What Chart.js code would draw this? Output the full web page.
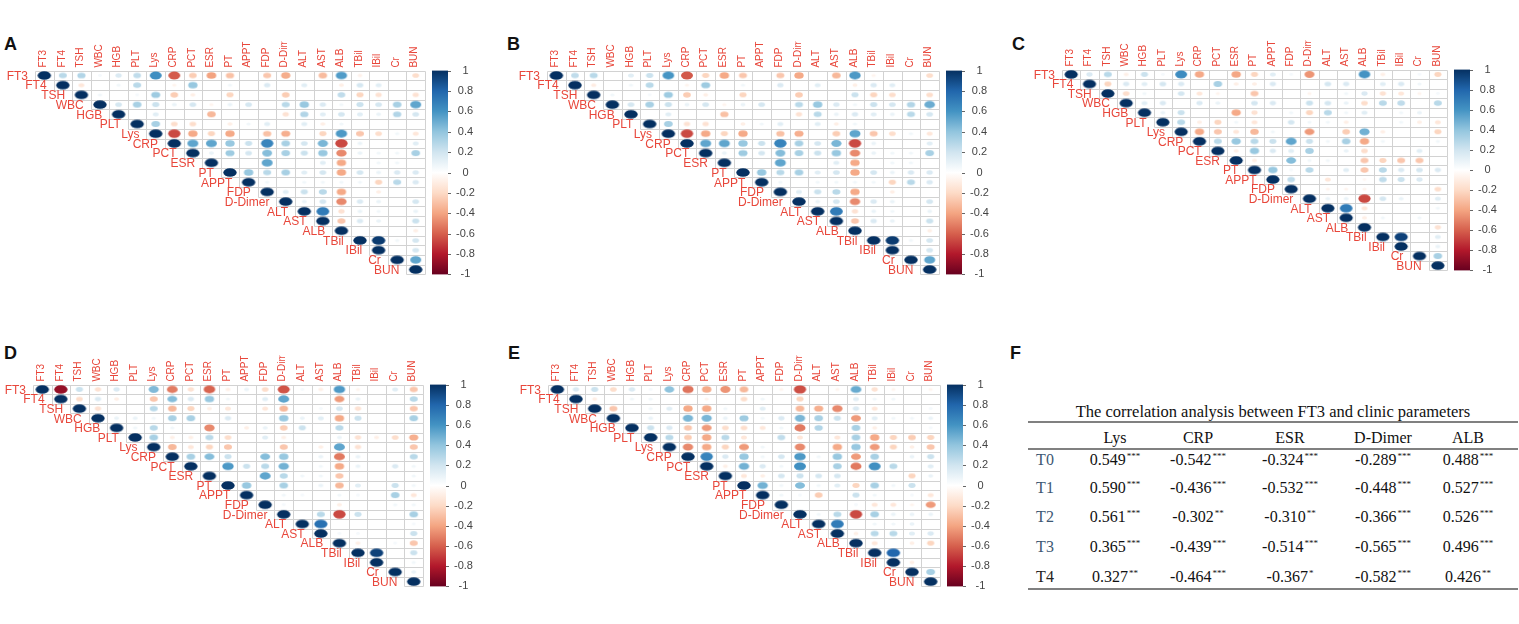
<!DOCTYPE html>
<html>
<head>
<meta charset="utf-8">
<script src="https://cdn.jsdelivr.net/npm/chart.js@4.4.0/dist/chart.umd.min.js"></script>
<style>
body{margin:0;width:1519px;height:624px;background:#fff;position:relative;overflow:hidden;font-family:"Liberation Sans",Arial,sans-serif}
.panel{position:absolute}
.tag{position:absolute;font:bold 18px "Liberation Sans",Arial,sans-serif;color:#111}
.tcell{position:absolute;font-family:"Liberation Serif","Times New Roman",serif;font-size:16px;color:#111;white-space:nowrap;transform:translate(-50%,-50%)}
.tcell sup{font-size:9px;vertical-align:6px;margin-left:1px}
.rule{position:absolute;left:1028px;width:490px;height:2px;background:#808080}
</style>
</head>
<body>
<div class="tag" style="left:4px;top:34px">A</div>
<div class="tag" style="left:507px;top:34px">B</div>
<div class="tag" style="left:1012px;top:34px">C</div>
<div class="tag" style="left:4px;top:343px">D</div>
<div class="tag" style="left:508px;top:343px">E</div>
<div class="tag" style="left:1010px;top:343px">F</div>
<div id="tbl"></div>
<script>
const vars = ['FT3','FT4','TSH','WBC','HGB','PLT','Lys','CRP','PCT','ESR','PT','APPT','FDP','D-Dimer','ALT','AST','ALB','TBil','IBil','Cr','BUN'];

// upper triangle, row i holds columns i+1..20 (diagonal is 1)
const corrT0 = [
  [0.2,0.22,0.02,0.1,0.18,0.549,-0.542,-0.18,-0.324,-0.22,0,-0.2,-0.289,0,-0.24,0.488,-0.04,0,0,-0.12],
  [-0.08,0,0.03,0.2,0,-0.03,0.3,0,0.03,0,0.1,0,0.08,0,-0.05,0.12,0.08,0,0],
  [0.03,0,0.02,0.28,-0.18,-0.05,0,-0.15,0,0,-0.18,0,0,0.18,-0.15,-0.1,0,-0.1],
  [0.12,0.25,0.15,0.05,0.12,-0.03,0.05,0.12,0,0.2,0.3,0.1,0.03,0.15,0.12,0.25,0.45],
  [0,0.08,0,0,-0.25,0,0,0,-0.1,0.22,0.08,0.12,0.08,0.05,0.22,0.12],
  [0.25,-0.12,-0.12,0,-0.05,0.03,0.08,0,0.08,-0.05,0.03,0,0,0,0],
  [-0.6,-0.3,-0.15,-0.3,0,-0.22,-0.28,0,-0.15,0.5,-0.2,-0.12,0.03,-0.08],
  [0.45,0.45,0.3,0.15,0.6,0.25,0.12,0.38,-0.6,0.05,0,0,0.08],
  [0.05,0.28,0.12,0.35,0.25,0.15,0.3,-0.4,0.05,0.03,0.03,0.25],
  [0,0,0.45,0,0,0.08,-0.3,0,0.03,0.03,0],
  [0.3,0.2,0.25,0.08,0.12,-0.3,0.12,0.05,0.1,0.1],
  [0.03,0,0.03,0.03,0.03,0.03,-0.15,0.2,0.1],
  [0.08,0.15,0.2,-0.3,0,-0.05,0,0],
  [0.05,0.12,-0.4,0.1,0.05,0,0.12],
  [0.65,-0.1,0.05,0.03,0,0.05],
  [-0.2,0.1,0.05,0,0.15],
  [0,0,0,-0.05],
  [0.95,0.03,0.12],
  [0,0.12],
  [0.45]
];
const corrT1 = [
  [0.18,0.2,0,0.08,0.15,0.52,-0.55,-0.15,-0.3,-0.2,0,-0.2,-0.3,0,-0.25,0.5,-0.03,0,0,-0.12],
  [-0.06,0,0.03,0.2,0,-0.03,0.28,0,0.03,0,0.1,0,0.08,0,-0.05,0.1,0.08,0,0],
  [0.03,0,0.02,0.28,-0.18,-0.05,0,-0.15,0,0,-0.18,0,0,0.15,-0.15,-0.12,0,-0.12],
  [0.12,0.25,0.15,0.05,0.12,-0.03,0.05,0.12,0,0.2,0.3,0.1,0.03,0.15,0.12,0.22,0.42],
  [0,0.08,0,0,-0.22,0,0,0,-0.1,0.2,0.05,0.1,0.08,0.05,0.2,0.12],
  [0.25,-0.1,-0.1,0,-0.05,0.03,0.08,0,0.08,-0.05,0.03,0,0,0,0],
  [-0.6,-0.3,-0.15,-0.3,0,-0.22,-0.28,0,-0.18,0.45,-0.2,-0.12,0.03,-0.08],
  [0.45,0.45,0.3,0.15,0.6,0.25,0.12,0.38,-0.6,0.05,0,0,0.08],
  [0.05,0.28,0.12,0.35,0.25,0.15,0.3,-0.4,0.05,0.03,0.03,0.25],
  [0,0,0.45,0,0,0.08,-0.3,0,0.03,0.03,0],
  [0.3,0.2,0.25,0.08,0.12,-0.3,0.12,0.05,0.1,0.1],
  [0.03,0,0.03,0.03,0.03,0.03,-0.15,0.2,0.1],
  [0.08,0.15,0.2,-0.3,0,-0.05,0,0],
  [0.05,0.12,-0.4,0.1,0.05,0,0.12],
  [0.65,-0.1,0.05,0.03,0,0.05],
  [-0.2,0.1,0.05,0,0.15],
  [0,0,0,-0.05],
  [0.95,0.03,0.12],
  [0,0.12],
  [0.45]
];
const corrT2 = [
  [0.1,0.2,-0.05,0.15,0.02,0.561,-0.302,0,-0.31,-0.15,0.08,0.02,-0.366,0,0,0.526,-0.05,0,0.02,-0.15],
  [-0.15,0.1,0.08,0.12,0.1,0,0.25,-0.05,-0.05,0.1,0,0,0.12,0.1,0,0.08,0.1,0.03,0],
  [-0.12,0.03,0,0.12,-0.08,-0.03,0,-0.2,0,0,-0.03,0,0.03,0.1,-0.1,-0.08,-0.03,0.02],
  [0.08,0.1,0,0.1,0.05,0,0.12,0.1,0,0.15,0.12,0.05,-0.12,0.2,0.18,0,0.2],
  [0.05,0.15,0,0,-0.3,-0.1,0,0.03,-0.15,0.2,0.03,0.08,0,0.03,0.05,0],
  [0.2,-0.05,-0.15,0.03,-0.08,0,0.12,0.03,0.03,-0.05,0,0,0.03,-0.05,-0.08],
  [-0.3,-0.2,-0.08,-0.25,0.03,0,-0.35,0,-0.18,0.4,-0.05,0,0,-0.15],
  [0.2,0.3,0.2,0.15,0.45,0.15,0.03,0.25,-0.3,0.03,0,0,0.03],
  [-0.05,0.3,0.1,0.08,0.25,0,0.05,-0.12,0,0,0.08,0],
  [-0.05,0,0.35,0.03,0.03,0,-0.2,-0.15,-0.2,-0.2,0],
  [0.3,0.02,0.2,0,0.08,-0.2,0.2,0.1,0.12,0.1],
  [0.18,0,-0.08,0,-0.02,0.18,0.15,0.1,0],
  [0,-0.03,-0.03,-0.03,0,0,0,-0.12],
  [0.05,0.05,-0.6,0.12,0.05,0,0.08],
  [0.65,-0.08,0,0,0,0.03],
  [-0.05,0.03,0,0.03,0],
  [0,0,0,-0.1],
  [0.92,0,0.08],
  [0,0.05],
  [0.25]
];
const corrT3 = [
  [-0.85,0.15,-0.1,0.1,0,0.365,-0.439,-0.1,-0.514,-0.05,0.05,-0.12,-0.565,0.02,-0.05,0.496,-0.03,0,0.08,-0.2],
  [-0.12,0.1,-0.05,0,-0.2,0.35,0.1,0.3,0.03,0,0.08,0.45,0,0,-0.35,0.05,0,0,0.2],
  [-0.1,0,0,0.2,-0.25,-0.15,-0.05,-0.08,0,-0.08,-0.25,0,0.02,0.12,-0.1,0,0,-0.2],
  [0.05,0.05,0.03,0.25,0.25,0,0.1,0,0,0.3,0.05,0.08,-0.3,0.15,0,0,0.25],
  [0.03,0.2,0.03,0,-0.4,0,-0.05,0.05,-0.18,0.15,0,0.2,0,0,0,0],
  [0.25,-0.05,-0.05,0.2,-0.12,0,0.08,-0.05,0,0,0.05,-0.1,-0.05,-0.12,-0.28],
  [-0.25,-0.08,-0.15,-0.2,0,0,-0.2,0,-0.05,0.45,-0.1,0,0,-0.2],
  [0.25,0.35,0.15,0,0.35,0.3,0,0.05,-0.45,0.05,0,0,0.2],
  [0,0.5,0.15,0.2,0.4,0,0.03,-0.3,0.05,0,0.1,0.03],
  [0,0,0.45,0.2,0.03,0.03,-0.2,0,0,0,0.03],
  [0.3,0,0.25,0,0.05,-0.25,0.08,0,0.15,0.03],
  [0,0.03,0.02,0,0.03,0.02,0,0.25,-0.08],
  [0.02,0,0,-0.05,0,0,0.03,0.03],
  [0,0.2,-0.6,0.15,0,0,0.25],
  [0.7,0,0,0,0,0.02],
  [0.02,0.02,0,0,0.15],
  [-0.05,0,0.02,-0.2],
  [0.92,0,0.15],
  [0,0.03],
  [0.05]
];
const corrT4 = [
  [0.1,0.15,-0.12,0.1,0.02,0.327,-0.464,-0.3,-0.367,-0.25,0,-0.03,-0.582,0,-0.03,0.426,-0.1,-0.03,0,-0.03],
  [-0.05,0,0.03,0.03,0,0,-0.03,0,-0.12,0.03,0,-0.15,0,0,0.08,0.03,0.03,0,0],
  [-0.2,0,0.03,0.08,-0.3,-0.3,0.03,0,0.08,0,-0.25,-0.28,-0.4,0.1,-0.08,0,0,0.02],
  [0,0.05,0,0.38,0.38,0.05,0.28,0.03,0.1,0.38,0.25,0.15,-0.35,0.08,0.03,0.03,0.05],
  [0.15,0.1,-0.2,-0.35,-0.12,-0.12,-0.08,0.03,-0.45,0.22,0,0.25,-0.05,0,0,0.02],
  [0.2,-0.18,-0.3,0.2,-0.08,0,0.18,-0.08,0,-0.08,0.25,-0.3,-0.15,-0.18,-0.15],
  [-0.4,-0.3,-0.15,-0.35,0.03,0,-0.4,0,-0.3,0.3,-0.35,-0.15,-0.05,-0.2],
  [0.6,0.1,0.3,0.03,0.12,0.5,0.03,0.3,-0.35,0.25,0,0.05,0.15],
  [-0.05,0.4,0.1,0.03,0.55,0,0.25,-0.45,0.55,0.2,0,0.08],
  [-0.08,-0.05,0.12,0.15,0.12,0.12,0,0,0,-0.15,0.05],
  [0.4,0.03,0.35,0.03,0.08,-0.15,0.25,0.03,0.15,0],
  [0.03,0.02,-0.18,0,0.15,0.03,0,0.02,-0.08],
  [0,0,0,0.02,-0.08,-0.08,-0.03,-0.35],
  [0.03,0.2,-0.6,0.25,0.05,0.05,0.05],
  [0.65,0,0.03,0.03,0.05,0],
  [-0.05,0.2,0.2,0.08,0.1],
  [-0.08,0,-0.05,-0.15],
  [0.75,0,0],
  [-0.05,0],
  [0.25]
];

const colorTicks = [1,0.8,0.6,0.4,0.2,0,-0.2,-0.4,-0.6,-0.8,-1];

// table F
const tableTitle = 'The correlation analysis between FT3 and clinic parameters';
const tableCols = ['Lys','CRP','ESR','D-Dimer','ALB'];
const tableRows = ['T0','T1','T2','T3','T4'];
const tableVals = [
  [0.549,-0.542,-0.324,-0.289,0.488],
  [0.590,-0.436,-0.532,-0.448,0.527],
  [0.561,-0.302,-0.310,-0.366,0.526],
  [0.365,-0.439,-0.514,-0.565,0.496],
  [0.327,-0.464,-0.367,-0.582,0.426]
];
const tableStars = [
  ['***','***','***','***','***'],
  ['***','***','***','***','***'],
  ['***','**','**','***','***'],
  ['***','***','***','***','***'],
  ['**','***','*','***','**']
];

const palette = ['#67001F','#B2182B','#D6604D','#F4A582','#FDDBC7','#FFFFFF','#D1E5F0','#92C5DE','#4393C3','#2166AC','#053061'];
const labelRed = '#E8473B';

function hexRgb(h){ return [1,3,5].map(k => parseInt(h.substr(k,2),16)); }
function corrColor(v, boost){
  const u = boost ? Math.sign(v) * Math.pow(Math.abs(v), 0.8) : v;
  const t = (u + 1) / 2 * 10;
  const i = Math.min(9, Math.floor(t));
  const f = t - i;
  const a = hexRgb(palette[i]), b = hexRgb(palette[i+1]);
  const c = a.map((x,k) => Math.round(x + (b[k]-x)*f));
  return 'rgb(' + c.join(',') + ')';
}

const ellCache = {};
function ellipse(v, cw, ch){
  const key = v + '_' + cw.toFixed(2) + '_' + ch.toFixed(2);
  if (ellCache[key]) return ellCache[key];
  const s = Math.sqrt(Math.abs(v));
  const fx = 0.36 * cw, fy = 0.45 * ch;
  const rx = Math.min(fx, fx * s + 1), ry = Math.min(fy, fy * s + 0.8);
  const cv = document.createElement('canvas');
  cv.width = Math.ceil(rx*2) + 2;
  cv.height = Math.ceil(ry*2) + 2;
  const g = cv.getContext('2d');
  g.fillStyle = corrColor(v, true);
  g.beginPath();
  g.ellipse(cv.width/2, cv.height/2, rx, ry, 0, 0, Math.PI*2);
  g.fill();
  ellCache[key] = cv;
  return cv;
}

function toPoints(rows){
  const pts = [];
  for (let i = 0; i < vars.length; i++) {
    pts.push({x: i, y: i, v: 1});
    (rows[i] || []).forEach((v, k) => {
      if (v !== 0) pts.push({x: i + 1 + k, y: i, v: v});
    });
  }
  return pts;
}

const corrDeco = {
  id: 'corrDeco',
  beforeDatasetsDraw(chart){
    const {ctx} = chart, sx = chart.scales.x, sy = chart.scales.y;
    const n = vars.length;
    ctx.save();
    ctx.strokeStyle = '#d2d2d2';
    ctx.lineWidth = 1;
    ctx.beginPath();
    for (let i = 0; i < n; i++) {
      const y0 = Math.round(sy.getPixelForValue(i-0.5)) + 0.5;
      const y1 = Math.round(sy.getPixelForValue(i+0.5)) + 0.5;
      const xl = Math.round(sx.getPixelForValue(i-0.5)) + 0.5;
      const xr = Math.round(sx.getPixelForValue(n-0.5)) + 0.5;
      ctx.moveTo(xl, y0); ctx.lineTo(xr, y0);
      ctx.moveTo(xl, y1); ctx.lineTo(xr, y1);
      for (let j = i; j <= n; j++) {
        const xx = Math.round(sx.getPixelForValue(j-0.5)) + 0.5;
        ctx.moveTo(xx, y0); ctx.lineTo(xx, y1);
      }
    }
    ctx.stroke();
    ctx.restore();
  },
  afterDraw(chart){
    const {ctx, chartArea} = chart, sx = chart.scales.x, sy = chart.scales.y, s2 = chart.scales.y2;
    ctx.save();
    // row labels on the diagonal
    ctx.font = '12px "Liberation Sans", Arial, sans-serif';
    ctx.fillStyle = labelRed;
    ctx.textAlign = 'right';
    ctx.textBaseline = 'middle';
    vars.forEach((name, i) => {
      ctx.fillText(name, sx.getPixelForValue(i-0.5) - 7, sy.getPixelForValue(i) + 1);
    });
    // colour legend
    const top = s2.getPixelForValue(1), bot = s2.getPixelForValue(-1);
    const x0 = chartArea.right + 7, x1 = chartArea.right + 23;
    const grad = ctx.createLinearGradient(0, top, 0, bot);
    palette.slice().reverse().forEach((c, k) => grad.addColorStop(k/10, c));
    ctx.fillStyle = grad;
    ctx.fillRect(x0, top, x1 - x0, bot - top);
    ctx.strokeStyle = '#666';
    ctx.beginPath();
    colorTicks.forEach(t => {
      const y = Math.round(s2.getPixelForValue(t)) + 0.5;
      ctx.moveTo(x1, y); ctx.lineTo(x1 + 3, y);
    });
    ctx.stroke();
    ctx.restore();
  }
};

const panels = [
  {data: corrT0, gx: 35,   gy: 62,  gw: 390, gh: 238},
  {data: corrT1, gx: 547,  gy: 62,  gw: 392, gh: 238},
  {data: corrT2, gx: 1062, gy: 61,  gw: 385, gh: 235},
  {data: corrT3, gx: 33,   gy: 376, gw: 390, gh: 236},
  {data: corrT4, gx: 548,  gy: 376, gw: 392, gh: 236}
];

panels.forEach(p => {
  const cv = document.createElement('canvas');
  const w = 35 + p.gw + 75, h = 29 + p.gh + 12;
  cv.className = 'panel';
  cv.style.left = (p.gx - 35) + 'px';
  cv.style.top = (p.gy - 29) + 'px';
  cv.style.width = w + 'px';
  cv.style.height = h + 'px';
  cv.width = w; cv.height = h;
  document.body.appendChild(cv);

  new Chart(cv, {
    type: 'scatter',
    data: {
      datasets: [{
        data: toPoints(p.data),
        radius: 3,
        pointStyle: (c) => {
          const sx = c.chart.scales.x, sy = c.chart.scales.y;
          const cw = Math.abs(sx.getPixelForValue(1) - sx.getPixelForValue(0));
          const ch = Math.abs(sy.getPixelForValue(1) - sy.getPixelForValue(0));
          return ellipse(c.raw.v, cw, ch);
        }
      }]
    },
    options: {
      responsive: false,
      animation: false,
      events: [],
      layout: {padding: {left: 35, right: 0, top: 0, bottom: 12}},
      plugins: {legend: {display: false}, tooltip: {enabled: false}},
      scales: {
        x: {
          type: 'linear', position: 'top', min: -0.5, max: 20.5,
          grid: {display: false, drawTicks: false}, border: {display: false},
          afterBuildTicks: (s) => { s.ticks = vars.map((_, i) => ({value: i})); },
          afterFit: (s) => { s.height = 29; },
          ticks: {
            autoSkip: false,
            minRotation: 90, maxRotation: 90, padding: 3, labelOffset: 11,
            color: labelRed, font: {size: 10, family: '"Liberation Sans", Arial, sans-serif'},
            callback: (v) => vars[Math.round(v)]
          }
        },
        y: {
          type: 'linear', min: -0.5, max: 20.5, reverse: true, display: false
        },
        y2: {
          type: 'linear', position: 'right', min: -1, max: 1,
          grid: {display: false, drawTicks: false}, border: {display: false},
          afterFit: (s) => { s.width = 75; },
          ticks: {
            stepSize: 0.2, padding: 31, crossAlign: 'center', color: '#444',
            font: {size: 11, family: '"Liberation Sans", Arial, sans-serif'},
            callback: (v) => String(Number(v.toFixed(1)))
          }
        }
      }
    },
    plugins: [corrDeco]
  });
});

// table F
(function(){
  const tbl = document.getElementById('tbl');
  const colX = [1115, 1198, 1290, 1383, 1468];
  const rowY = [460, 488, 517, 547, 577];
  const add = (html, x, y, extra) => {
    const d = document.createElement('div');
    d.className = 'tcell';
    d.style.left = x + 'px';
    d.style.top = y + 'px';
    if (extra) Object.assign(d.style, extra);
    d.innerHTML = html;
    tbl.appendChild(d);
  };
  add(tableTitle, 1273, 412, {fontSize: '16.5px'});
  [421, 448, 588].forEach(y => {
    const r = document.createElement('div');
    r.className = 'rule';
    r.style.top = y + 'px';
    tbl.appendChild(r);
  });
  tableCols.forEach((c, j) => add(c, colX[j], 438));
  tableRows.forEach((r, i) => {
    add(r, 1045, rowY[i], {color: i < 4 ? '#3d5873' : '#222'});
    tableVals[i].forEach((v, j) => {
      add(v.toFixed(3) + '<sup>' + tableStars[i][j] + '</sup>', colX[j], rowY[i]);
    });
  });
})();
</script>
</body>
</html>
